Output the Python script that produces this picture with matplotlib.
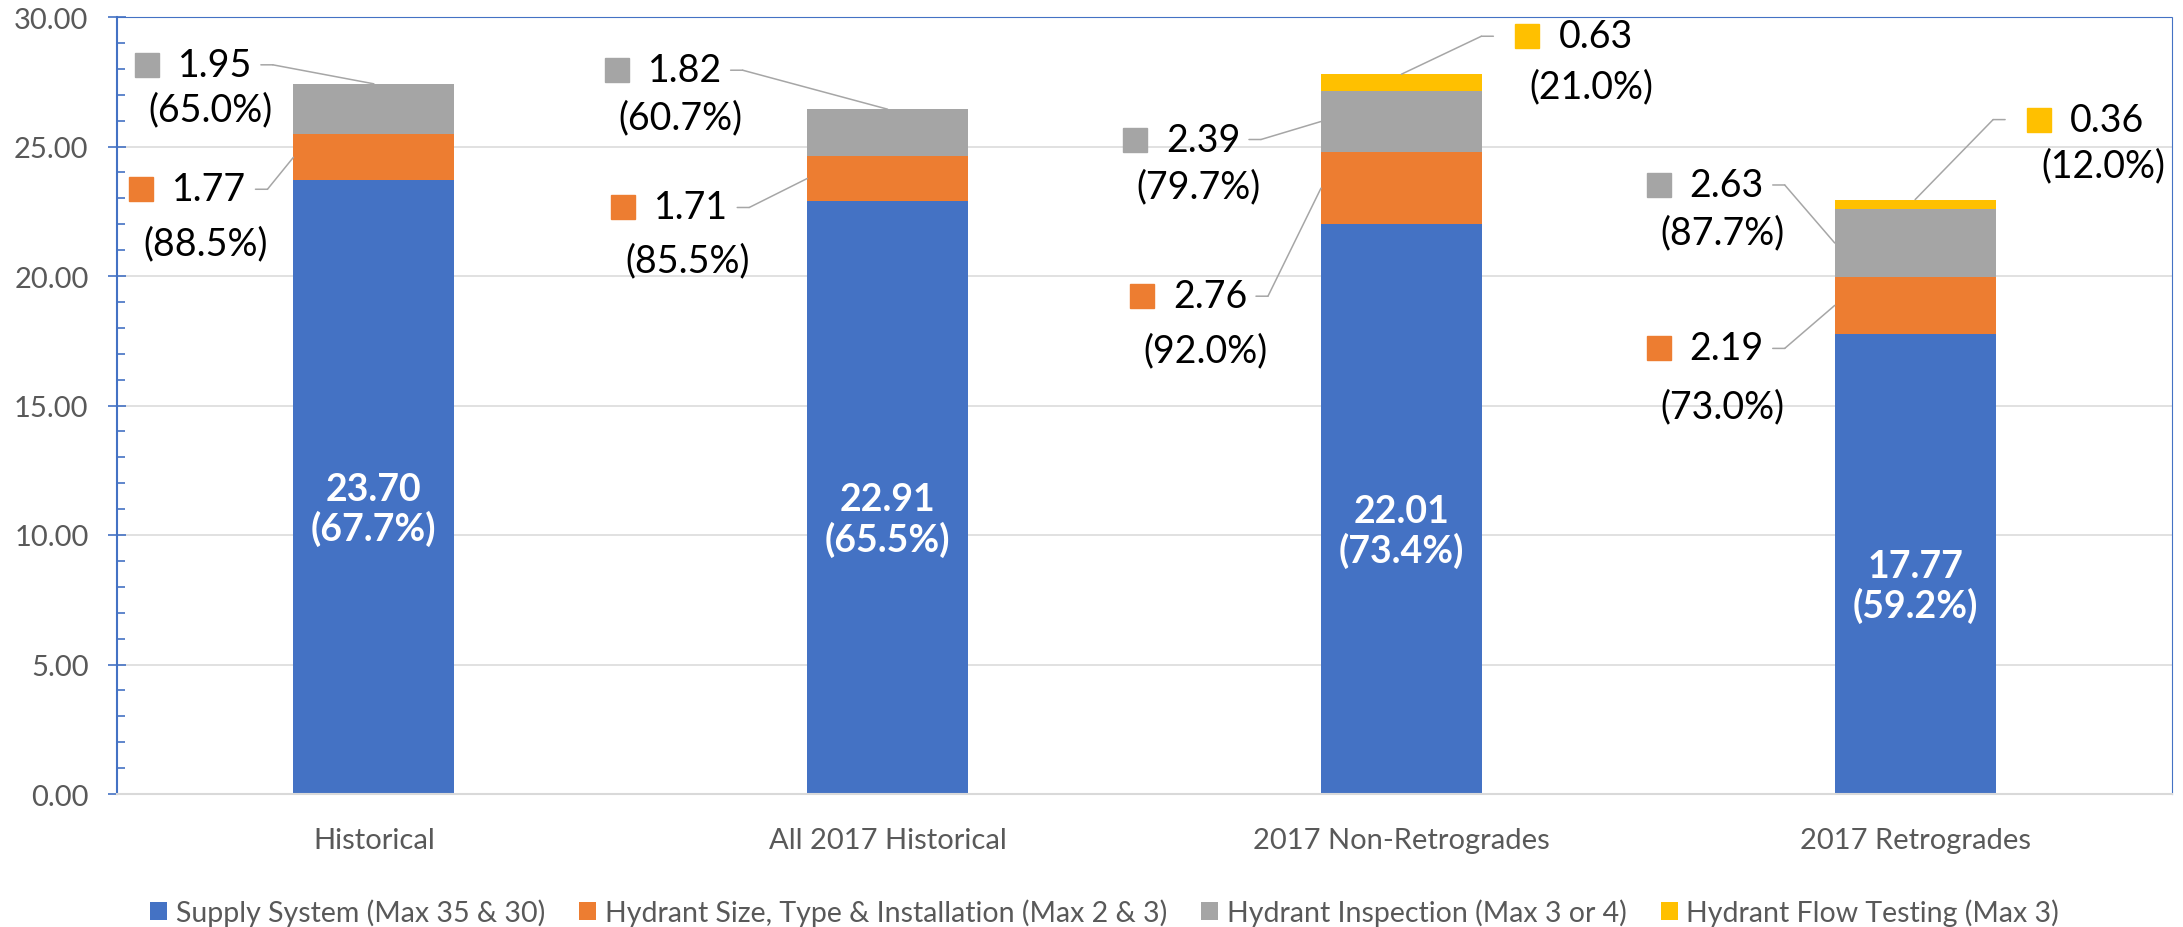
import matplotlib.pyplot as plt
from matplotlib.patches import Patch
from matplotlib.transforms import offset_copy

plt.rcParams['font.family'] = ['Lato', 'DejaVu Sans']

# data
categories = ["Historical", "All 2017 Historical", "2017 Non-Retrogrades", "2017 Retrogrades"]
series_names = ["Supply System (Max 35 & 30)", "Hydrant Size, Type & Installation (Max 2 & 3)",
                "Hydrant Inspection (Max 3 or 4)", "Hydrant Flow Testing (Max 3)"]
supply = [23.70, 22.91, 22.01, 17.77]
size_type = [1.77, 1.71, 2.76, 2.19]
inspection = [1.95, 1.82, 2.39, 2.63]
flow_test = [0.0, 0.0, 0.63, 0.36]
supply_pct = [67.7, 65.5, 73.4, 59.2]
size_type_pct = [88.5, 85.5, 92.0, 73.0]
inspection_pct = [65.0, 60.7, 79.7, 87.7]
flow_test_pct = [None, None, 21.0, 12.0]

colors = ["#4472C4", "#ED7D31", "#A5A5A5", "#FFC000"]
values = [supply, size_type, inspection, flow_test]
pcts = [supply_pct, size_type_pct, inspection_pct, flow_test_pct]

# callout layout: (series, category, anchor, side, dx, dy, line gap) in pixels
callouts = [
    (2, 0, "top", "L", -113, 19, 44),
    (1, 0, "left", "L", -38, -32, 54),
    (2, 1, "top", "L", -157, 39, 47),
    (1, 1, "left", "L", -70, -29, 53),
    (3, 2, "top", "R", 92, 38, 50),
    (2, 2, "left", "L", -72, -18, 47),
    (1, 2, "left", "L", -65, -108, 54),
    (3, 3, "top", "R", 90, 80, 46),
    (2, 3, "left", "L", -62, 58, 47),
    (1, 3, "left", "L", -62, -43, 58),
]

fig = plt.figure(figsize=(21.83, 9.28), dpi=100)
ax = fig.add_axes([117 / 2183, 1 - 795 / 928, (2172 - 117) / 2183, (795 - 18) / 928])

x = list(range(len(categories)))
width = 0.313
bottoms = [0.0] * len(categories)
seg_bottoms = []
for vals, col in zip(values, colors):
    seg_bottoms.append(list(bottoms))
    ax.bar(x, vals, width, bottom=bottoms, color=col, zorder=2)
    bottoms = [b + v for b, v in zip(bottoms, vals)]

# white labels inside supply bars
for i, (v, p) in enumerate(zip(supply, supply_pct)):
    ax.text(i, v / 2, f"{v:.2f}\n({p:.1f}%)", ha="center", va="center", color="white",
            fontsize=27, fontweight="bold", linespacing=1.15, zorder=4,
            transform=offset_copy(ax.transData, fig=fig, x=0, y=-22, units="dots"))


def off(dx, dy):
    return offset_copy(ax.transData, fig=fig, x=dx, y=dy, units="dots")


lead_col = "#A6A6A6"
for s, c, anchor, side, dx, dy, gap in callouts:
    b = seg_bottoms[s][c]
    v = values[s][c]
    if anchor == "top":
        ax_x, ax_y = c, b + v
    else:
        ax_x, ax_y = c - width / 2, b + v / 2
    stub = 12 if side == "L" else -12
    # diagonal leader from bar to elbow, then short stub
    ax.annotate("", xy=(ax_x, ax_y), xytext=(dx + stub, dy), textcoords="offset pixels",
                arrowprops=dict(arrowstyle="-", color=lead_col, lw=1.1, shrinkA=0, shrinkB=0),
                annotation_clip=False, zorder=3)
    ax.annotate("", xy=(ax_x, ax_y), xycoords=off(dx + stub, dy), xytext=(-stub, 0),
                textcoords="offset pixels",
                arrowprops=dict(arrowstyle="-", color=lead_col, lw=1.1, shrinkA=0, shrinkB=0),
                annotation_clip=False, zorder=3)
    if side == "L":
        sq, num, pcx = -114, -83, -50
    else:
        sq, num, pcx = 34, 65, 98
    ax.plot([ax_x], [ax_y], marker="s", ms=17, color=colors[s], linestyle="none",
            transform=off(dx + sq, dy), clip_on=False, zorder=4)
    ax.text(ax_x, ax_y, f"{v:.2f}", ha="left", va="center", fontsize=27, color="black",
            transform=off(dx + num, dy), clip_on=False, zorder=4)
    ax.text(ax_x, ax_y, f"({pcts[s][c]:.1f}%)", ha="center", va="center", fontsize=27,
            color="black", transform=off(dx + pcx, dy - gap), clip_on=False, zorder=4)

ax.set_xlim(-0.5, len(categories) - 0.5)
ax.set_ylim(0, 30)
ax.set_yticks(range(0, 31, 5))
ax.set_yticks(range(0, 31, 1), minor=True)
ax.yaxis.set_major_formatter(plt.FormatStrFormatter("%.2f"))
ax.set_xticks(x)
ax.set_xticklabels(categories)

ax.tick_params(axis="y", which="major", direction="inout", length=13, width=1.2,
               color="#4472C4", labelcolor="#595959", labelsize=21, pad=14)
ax.tick_params(axis="y", which="minor", direction="in", length=6, width=1.2, color="#4472C4")
ax.tick_params(axis="x", length=0, labelcolor="#595959", labelsize=21, pad=24)

ax.grid(axis="y", which="major", color="#D9D9D9", lw=1.1, zorder=0)
ax.set_axisbelow(True)

ax.spines["left"].set_color("#4472C4")
ax.spines["left"].set_linewidth(1.5)
for side in ["top", "right"]:
    ax.spines[side].set_color("#4472C4")
    ax.spines[side].set_linewidth(0.8)
    ax.spines[side].set_linestyle((0, (1, 1)))
ax.spines["bottom"].set_color("#D9D9D9")
ax.spines["bottom"].set_linewidth(1.5)
ax.spines["bottom"].set_linestyle((0, (1, 1)))

handles = [Patch(facecolor=col, label=name) for col, name in zip(colors, series_names)]
fig.legend(handles=handles, loc="center", bbox_to_anchor=(0.506, 1 - 913 / 928), ncol=4,
           frameon=False, fontsize=20.5, labelcolor="#595959", handlelength=0.6,
           handleheight=0.6, handletextpad=0.3, columnspacing=1.2)

fig.savefig("out.png", dpi=100)
